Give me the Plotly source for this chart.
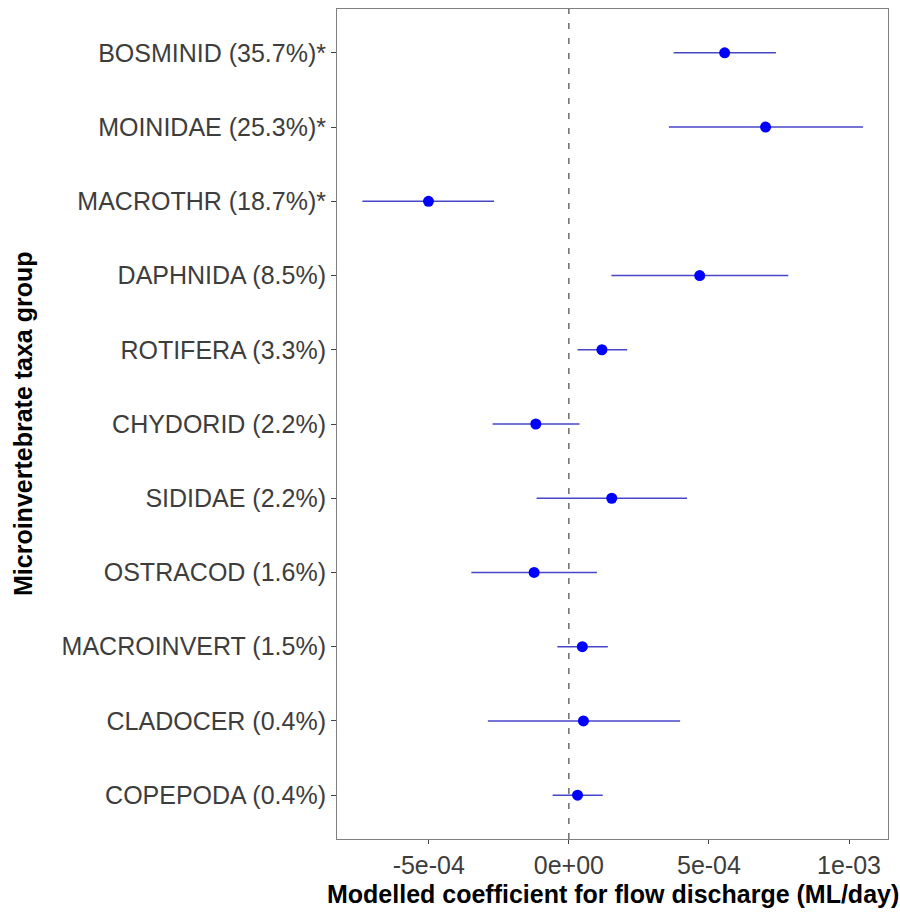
import plotly.graph_objects as go

# Taxa groups (top to bottom) with their share of abundance
taxa = [
    "BOSMINID (35.7%)*",
    "MOINIDAE (25.3%)*",
    "MACROTHR (18.7%)*",
    "DAPHNIDA (8.5%)",
    "ROTIFERA (3.3%)",
    "CHYDORID (2.2%)",
    "SIDIDAE (2.2%)",
    "OSTRACOD (1.6%)",
    "MACROINVERT (1.5%)",
    "CLADOCER (0.4%)",
    "COPEPODA (0.4%)",
]

# Modelled coefficient estimates and interval bounds
estimate = [5.56e-4, 7.02e-4, -5.01e-4, 4.67e-4, 1.18e-4, -1.18e-4,
            1.53e-4, -1.24e-4, 4.8e-5, 5.2e-5, 3.1e-5]
lower = [3.74e-4, 3.57e-4, -7.37e-4, 1.52e-4, 3.1e-5, -2.72e-4,
         -1.15e-4, -3.48e-4, -4.1e-5, -2.89e-4, -5.8e-5]
upper = [7.39e-4, 1.05e-3, -2.67e-4, 7.83e-4, 2.08e-4, 3.8e-5,
         4.22e-4, 1.0e-4, 1.39e-4, 3.97e-4, 1.21e-4]

x_ticks = [-5e-4, 0.0, 5e-4, 1e-3]
x_tick_labels = ["-5e-04", "0e+00", "5e-04", "1e-03"]

err_plus = [u - e for u, e in zip(upper, estimate)]
err_minus = [e - l for e, l in zip(estimate, lower)]

fig = go.Figure()
fig.add_trace(go.Scatter(
    x=estimate,
    y=taxa,
    mode="markers",
    marker=dict(color="#0000ff", size=11),
    error_x=dict(
        type="data",
        symmetric=False,
        array=err_plus,
        arrayminus=err_minus,
        color="rgb(70,70,200)",
        thickness=1.6,
        width=0,
    ),
    showlegend=False,
))

# Reference line at zero effect
fig.add_shape(
    type="line", xref="x", yref="paper",
    x0=0, x1=0, y0=0, y1=1,
    line=dict(color="#555555", width=1.3, dash="6px,9px"),
)

FONT = "Liberation Sans, Arial, sans-serif"
axis_font = dict(family=FONT, size=25, color="#3d3d3d")

fig.update_layout(
    width=900,
    height=913,
    margin=dict(l=337, r=12, t=9, b=74),
    plot_bgcolor="white",
    paper_bgcolor="white",
    xaxis=dict(
        range=[-8.275e-4, 1.139e-3],
        tickvals=x_ticks,
        ticktext=x_tick_labels,
        tickfont=axis_font,
        ticks="outside",
        ticklen=4,
        tickcolor="#444444",
        showgrid=False,
        zeroline=False,
        showline=True,
        linecolor="#7f7f7f",
        linewidth=1,
        mirror=True,
    ),
    yaxis=dict(
        type="category",
        categoryorder="array",
        categoryarray=taxa,
        range=[10.59, -0.59],
        tickfont=axis_font,
        ticks="outside",
        ticklen=5,
        tickcolor="#444444",
        showgrid=False,
        zeroline=False,
        showline=True,
        linecolor="#7f7f7f",
        linewidth=1,
        mirror=True,
    ),
    annotations=[
        dict(
            text="<b>Modelled coefficient for flow discharge (ML/day)</b>",
            xref="paper", yref="paper",
            x=0.5, y=0, xanchor="center", yanchor="middle",
            yshift=-55, showarrow=False,
            font=dict(family=FONT, size=25, color="black"),
        ),
        dict(
            text="<b>Microinvertebrate taxa group</b>",
            xref="paper", yref="paper",
            x=0, y=0.5, xanchor="center", yanchor="middle",
            xshift=-314, textangle=-90, showarrow=False,
            font=dict(family=FONT, size=25, color="black"),
        ),
    ],
)

fig.write_html("out.html")
